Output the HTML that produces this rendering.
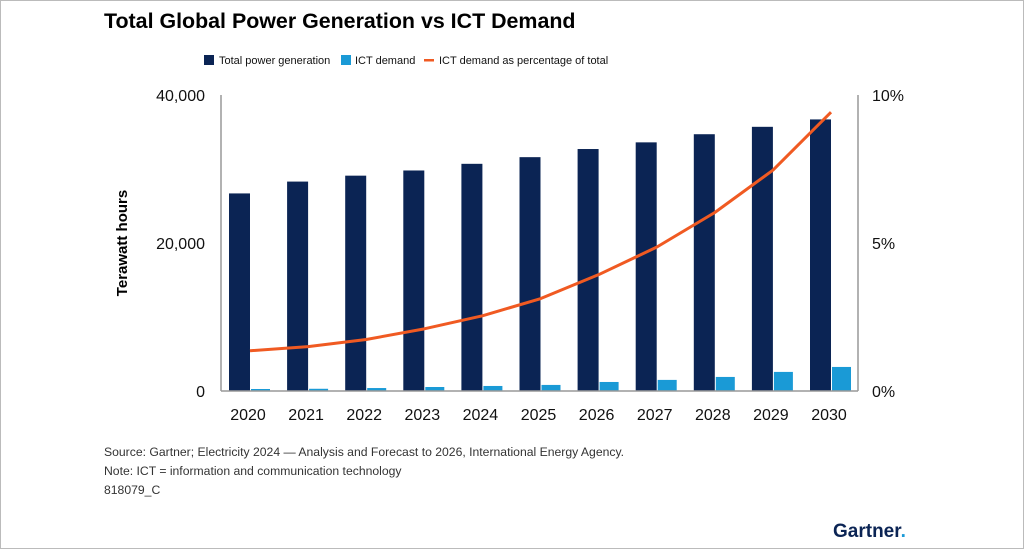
<!DOCTYPE html>
<html><head><meta charset="utf-8"><style>
body{margin:0;background:#fff;width:1024px;height:549px;overflow:hidden;font-family:"Liberation Sans",sans-serif;}
.frame{position:absolute;left:0;top:0;width:1022px;height:547px;border:1px solid #bbb;}
</style></head><body>
<div class="frame"></div>
<svg width="1024" height="549" style="position:absolute;left:0;top:0">
<text x="104" y="28" font-size="21.4" font-weight="bold" fill="#000">Total Global Power Generation vs ICT Demand</text>
<g font-size="11" fill="#111">
<rect x="204" y="55" width="10" height="10" fill="#0b2454"/>
<text x="219" y="64">Total power generation</text>
<rect x="341" y="55" width="10" height="10" fill="#1a9ad6"/>
<text x="355" y="64">ICT demand</text>
<rect x="424" y="59" width="10" height="2.5" fill="#f05a22"/>
<text x="439" y="64">ICT demand as percentage of total</text>
</g>
<text transform="translate(127,243) rotate(-90)" text-anchor="middle" font-size="15" font-weight="bold">Terawatt hours</text>
<g id="g"></g>
<text x="104" y="456" font-size="12.2" fill="#333">Source: Gartner; Electricity 2024 — Analysis and Forecast to 2026, International Energy Agency.</text>
<text x="104" y="475" font-size="12.2" fill="#333">Note: ICT = information and communication technology</text>
<text x="104" y="494" font-size="12.2" fill="#333">818079_C</text>
<text x="833" y="537" font-size="19" font-weight="bold" fill="#0b2454">Gartner<tspan fill="#1a9ad6">.</tspan></text>
</svg>
<script>
const years=["2020","2021","2022","2023","2024","2025","2026","2027","2028","2029","2030"];
const totalGen=[26700,28300,29100,29800,30700,31600,32700,33600,34700,35700,36700];
const ictDemand=[270,300,400,540,680,820,1220,1500,1900,2580,3250];
const ictPct=[1.36,1.5,1.74,2.1,2.54,3.12,3.93,4.86,6.03,7.46,9.42];
const leftTicks=[0,20000,40000];
const leftTickLabels=["0","20,000","40,000"];
const rightTicks=[0,5,10];
const rightTickLabels=["0%","5%","10%"];
const NS="http://www.w3.org/2000/svg";
const g=document.getElementById('g');
const y0=391,yTop=95,xL=221,xR=858;
const yL=v=>y0-(v/40000)*(y0-yTop);
const yR=v=>y0-(v/10)*(y0-yTop);
const xC=i=>250+i*58.1;
function mk(t,a){const e=document.createElementNS(NS,t);for(const k in a)e.setAttribute(k,a[k]);g.appendChild(e);return e;}
let e;
e=mk('line',{x1:xL,y1:yTop,x2:xL,y2:y0,stroke:'#999','stroke-width':1.5});


e=mk('line',{x1:xR,y1:yTop,x2:xR,y2:y0,stroke:'#999','stroke-width':1.5});


leftTicks.forEach((v,i)=>{e=mk('text',{x:205,y:yL(v)+6,'text-anchor':'end','font-size':16,fill:'#111'});e.textContent=leftTickLabels[i];

});
rightTicks.forEach((v,i)=>{e=mk('text',{x:872,y:yR(v)+6,'font-size':16,fill:'#111'});e.textContent=rightTickLabels[i];

});
years.forEach((yr,i)=>{
 const c=xC(i);
 e=mk('rect',{x:c-21,y:yL(totalGen[i]),width:21,height:y0-yL(totalGen[i]),fill:'#0b2454'});
 
 
 e=mk('rect',{x:c+1,y:yL(ictDemand[i]),width:19,height:y0-yL(ictDemand[i]),fill:'#1a9ad6'});
 
 
 e=mk('text',{x:c-2,y:420,'text-anchor':'middle','font-size':16,fill:'#111'});e.textContent=yr;
 
 
});
e=mk('line',{x1:xL,y1:y0,x2:xR,y2:y0,stroke:'#999','stroke-width':1.5});


let d='';ictPct.forEach((v,i)=>{d+=(i?'L':'M')+xC(i)+','+yR(v);});
e=mk('path',{d:d,fill:'none',stroke:'#f05a22','stroke-width':3,'stroke-linejoin':'round'});


</script>
</body></html>
